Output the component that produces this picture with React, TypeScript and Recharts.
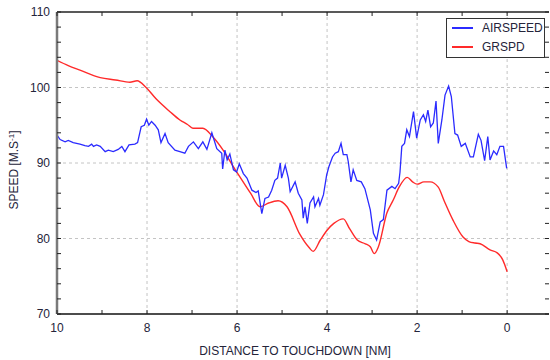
import { Legend, Line, LineChart, ReferenceLine, XAxis, YAxis } from 'recharts';

// distance to touchdown [NM] / speed [m/s]
const airDist = [
  10.0, 9.93, 9.82, 9.75, 9.64, 9.49, 9.38, 9.3, 9.23, 9.19, 9.12, 9.04, 8.93, 8.86, 8.75, 8.64, 8.56, 8.49, 8.4, 8.27,
  8.21, 8.13, 8.06, 8.01, 7.96, 7.9, 7.82, 7.75, 7.69, 7.6, 7.53, 7.38, 7.27, 7.16, 7.08, 6.97, 6.86, 6.76, 6.67, 6.56,
  6.45, 6.34, 6.32, 6.27, 6.22, 6.16, 6.08, 6.01, 5.95, 5.86, 5.78, 5.67, 5.58, 5.53, 5.45, 5.38, 5.3, 5.23, 5.16, 5.1,
  5.04, 5.01, 4.93, 4.86, 4.82, 4.71, 4.64, 4.56, 4.53, 4.49, 4.44, 4.38, 4.3, 4.27, 4.19, 4.16, 4.08, 4.01, 3.96, 3.88,
  3.82, 3.75, 3.69, 3.64, 3.56, 3.53, 3.47, 3.42, 3.34, 3.24, 3.16, 3.04, 2.97, 2.9, 2.82, 2.75, 2.67, 2.56, 2.49, 2.41,
  2.38, 2.34, 2.28, 2.23, 2.17, 2.08, 2.01, 1.93, 1.86, 1.81, 1.76, 1.7, 1.64, 1.58, 1.53, 1.45, 1.38, 1.3, 1.24, 1.16,
  1.1, 1.02, 0.93, 0.82, 0.75, 0.64, 0.58, 0.5, 0.43, 0.38, 0.3, 0.23, 0.16, 0.08, 0.01,
];
const airSpeed = [
  93.7, 93.1, 92.8, 93.0, 92.7, 92.5, 92.3, 92.2, 92.5, 92.2, 92.4, 92.2, 91.5, 91.7, 91.5, 91.8, 92.2, 91.5, 92.4, 92.5,
  92.7, 94.8, 95.0, 95.8, 95.0, 95.5, 95.0, 94.4, 92.7, 93.9, 92.7, 91.7, 91.5, 91.3, 92.2, 92.8, 91.9, 92.8, 91.8, 94.0,
  91.9, 91.3, 89.2, 91.7, 90.4, 91.2, 89.1, 88.8, 89.9, 88.6, 88.0, 86.4, 86.1, 86.3, 83.3, 85.3, 85.5, 86.4, 87.7, 88.0,
  90.0, 88.0, 89.7, 88.0, 86.2, 87.5, 86.0, 85.1, 82.7, 84.2, 82.0, 84.7, 85.5, 84.2, 85.3, 84.4, 85.8, 88.4, 89.5, 90.8,
  91.3, 91.5, 92.6, 91.1, 91.1, 90.2, 87.5, 89.1, 87.7, 87.5, 86.6, 83.8, 80.7, 79.8, 82.2, 82.5, 86.4, 86.9, 86.6, 87.3,
  88.8, 92.2, 92.6, 94.4, 93.5, 96.8, 93.3, 95.7, 96.4, 95.5, 97.0, 94.8, 95.3, 98.2, 92.6, 95.7, 99.0, 100.2, 98.8, 93.9,
  93.7, 92.2, 92.6, 90.8, 90.8, 93.8, 93.0, 90.3, 93.5, 90.4, 91.6, 91.1, 92.2, 92.2, 89.3,
];

const gsDist = [
  10.0, 9.75, 9.49, 9.04, 8.7, 8.38, 8.22, 8.02, 7.8, 7.49, 7.27, 7.1, 6.98, 6.76, 6.53, 6.31, 6.04, 5.93, 5.7, 5.49,
  5.3, 5.09, 4.89, 4.6, 4.4, 4.31, 4.15, 4.0, 3.85, 3.64, 3.5, 3.33, 3.15, 3.04, 2.95, 2.86, 2.67, 2.53, 2.4, 2.22, 2.1,
  2.0, 1.85, 1.71, 1.53, 1.4, 1.2, 0.98, 0.85, 0.71, 0.6, 0.38, 0.22, 0.1, 0.0,
];
const gsSpeed = [
  103.6, 102.9, 102.3, 101.3, 101.0, 100.7, 100.9, 100.0, 98.5, 96.8, 95.7, 95.1, 94.6, 94.6, 93.4, 91.7, 89.1, 88.1, 86.0,
  84.2, 84.7, 85.0, 84.2, 80.5, 78.8, 78.3, 79.8, 81.1, 82.0, 82.6, 81.3, 79.8, 79.3, 78.9, 78.0, 78.9, 83.4, 85.1, 86.8,
  88.1, 87.5, 87.2, 87.5, 87.5, 86.8, 85.0, 82.4, 80.2, 79.6, 79.4, 79.3, 78.5, 78.1, 77.2, 75.6,
];

const xTicks = [10, 9, 8, 7, 6, 5, 4, 3, 2, 1, 0];
const xGrid = [8, 6, 4, 2, 0];
const yTicks = [70, 72, 74, 76, 78, 80, 82, 84, 86, 88, 90, 92, 94, 96, 98, 100, 102, 104, 106, 108, 110];
const yGrid = [100, 90, 80];

const airData = airDist.map((d, i) => ({ dist: d, airspeed: airSpeed[i] }));
const gsData = gsDist.map((d, i) => ({ dist: d, grspd: gsSpeed[i] }));

const FONT = '"Liberation Sans", Arial, sans-serif';
const LABEL = '#24243a';

const BottomTick = ({ x, y, payload }: any) => (
  <g>
    <line x1={x} x2={x} y1={y} y2={y - 4} stroke="#222" />
    {payload.value % 2 === 0 && (
      <text x={x} y={y + 18} textAnchor="middle" fontSize={12} fontFamily={FONT} fill={LABEL}>
        {payload.value}
      </text>
    )}
  </g>
);

const TopTick = ({ x, y }: any) => <line x1={x} x2={x} y1={y} y2={y + 4} stroke="#222" />;

const LeftTick = ({ x, y, payload }: any) => (
  <g>
    <line x1={x} x2={x + 4} y1={y} y2={y} stroke="#222" />
    {payload.value % 10 === 0 && (
      <text x={x - 7} y={y + 4} textAnchor="end" fontSize={12} fontFamily={FONT} fill={LABEL}>
        {payload.value}
      </text>
    )}
  </g>
);

const RightTick = ({ x, y }: any) => <line x1={x} x2={x - 4} y1={y} y2={y} stroke="#222" />;

const LegendBox = () => (
  <div style={{ border: '1px solid #333', background: '#fff', width: 97, height: 38, fontFamily: FONT, fontSize: 12 }}>
    {[
      { name: 'AIRSPEED', color: '#2b2bff' },
      { name: 'GRSPD', color: '#ff2a2a' },
    ].map((s, i) => (
      <div key={s.name} style={{ position: 'absolute', top: 3 + i * 19, left: 6, display: 'flex', alignItems: 'center', color: LABEL }}>
        <span style={{ display: 'inline-block', width: 21, height: 1.5, background: s.color, marginRight: 9 }} />
        {s.name}
      </div>
    ))}
  </div>
);

export default function App() {
  return (
    <div style={{ position: 'absolute', left: 0, top: 0, width: 550, height: 360, background: '#fff' }}>
      <LineChart width={550} height={360} data={airData} margin={{ top: 11, right: 0, left: 0, bottom: 0 }}>
        <XAxis
          dataKey="dist"
          type="number"
          domain={[-0.93, 10]}
          reversed
          allowDataOverflow
          ticks={xTicks}
          interval={0}
          tickSize={0}
          tickMargin={0}
          tick={BottomTick}
          height={46}
          axisLine={{ stroke: '#111', strokeWidth: 1.6 }}
        />
        <XAxis
          xAxisId="top"
          orientation="top"
          dataKey="dist"
          type="number"
          domain={[-0.93, 10]}
          reversed
          allowDataOverflow
          ticks={xTicks}
          interval={0}
          tickSize={0}
          tickMargin={0}
          tick={TopTick}
          height={1}
          axisLine={{ stroke: '#222', strokeWidth: 1.2 }}
        />
        <YAxis
          type="number"
          domain={[70, 110]}
          allowDataOverflow
          ticks={yTicks}
          interval={0}
          tickSize={0}
          tickMargin={0}
          tick={LeftTick}
          width={57}
          axisLine={{ stroke: '#7a7a7a', strokeWidth: 2.5 }}
          label={{
            content: () => (
              <text transform="translate(18,170) rotate(-90)" textAnchor="middle" fontSize={12} fontFamily={FONT} fill={LABEL}>
                SPEED [M.S
                <tspan dy={-4} fontSize={8}>-1</tspan>
                <tspan dy={4}>]</tspan>
              </text>
            ),
          }}
        />
        <YAxis
          yAxisId="right"
          orientation="right"
          type="number"
          domain={[70, 110]}
          allowDataOverflow
          ticks={yTicks}
          interval={0}
          tickSize={0}
          tickMargin={0}
          tick={RightTick}
          width={1}
          axisLine={false}
        />
        {xGrid.map((v) => (
          <ReferenceLine key={'x' + v} x={v} stroke="#c4c4c4" strokeDasharray="3 3" />
        ))}
        {yGrid.map((v) => (
          <ReferenceLine key={'y' + v} y={v} stroke="#c4c4c4" strokeDasharray="3 3" />
        ))}
        <ReferenceLine y={110} stroke="#222" strokeWidth={1.2} />
        <Legend
          layout="horizontal"
          verticalAlign="middle"
          align="center"
          content={LegendBox}
          wrapperStyle={{ top: 18, left: 446, width: 99, height: 40 }}
        />
        <Line
          data={gsData}
          dataKey="grspd"
          name="GRSPD"
          type="monotone"
          stroke="#ff2a2a"
          strokeWidth={1.4}
          dot={false}
          isAnimationActive={false}
        />
        <Line
          data={airData}
          dataKey="airspeed"
          name="AIRSPEED"
          type="linear"
          stroke="#2b2bff"
          strokeWidth={1.3}
          dot={false}
          isAnimationActive={false}
        />
        <text x={295} y={355} textAnchor="middle" fontSize={12} fontFamily={FONT} fill={LABEL}>
          DISTANCE TO TOUCHDOWN [NM]
        </text>
      </LineChart>
    </div>
  );
}
